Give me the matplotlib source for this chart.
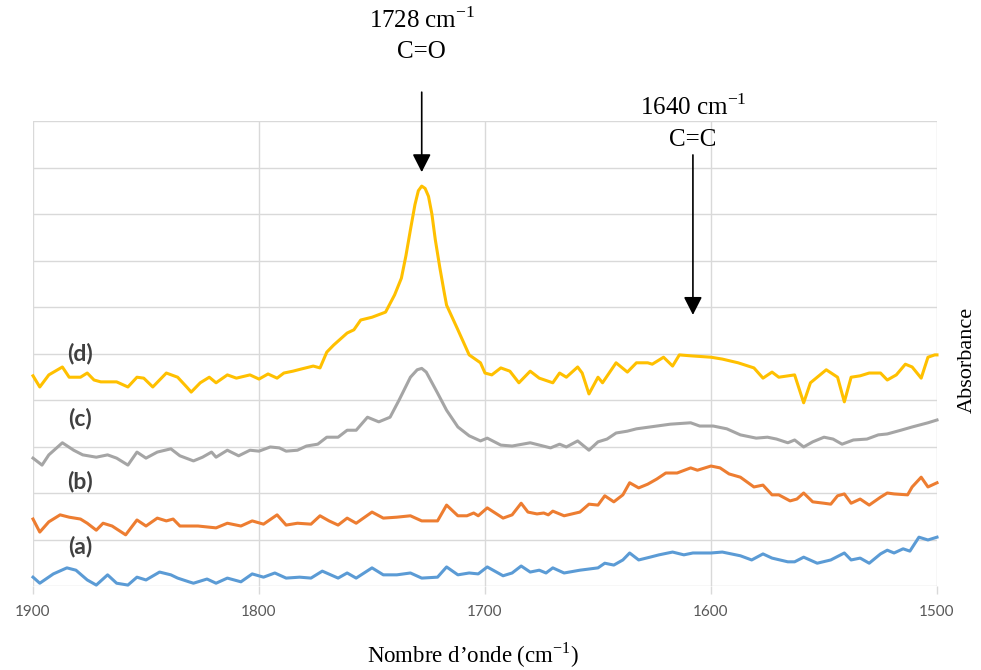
import matplotlib
matplotlib.use("Agg")
import matplotlib.pyplot as plt

plt.rcParams['mathtext.fontset'] = 'custom'
plt.rcParams['mathtext.rm'] = 'Liberation Serif'

# spectra, absorbance in arbitrary (offset) units, x in cm-1
wn_a = [1900, 1897, 1891, 1885, 1881, 1876, 1872, 1867, 1863, 1858, 1854, 1850, 1844, 1839, 1836,
        1831, 1829, 1823, 1819, 1814, 1808, 1803, 1798, 1793, 1788, 1782, 1777, 1772, 1765, 1761,
        1757, 1750, 1745, 1739, 1733, 1728, 1721, 1717, 1712, 1707, 1703, 1699, 1692, 1688, 1684,
        1680, 1676, 1673, 1670, 1665, 1658, 1650, 1647, 1643, 1639, 1636, 1632, 1627, 1623, 1617,
        1612, 1608, 1600, 1595, 1587, 1582, 1577, 1573, 1566, 1563, 1559, 1553, 1547, 1541, 1538,
        1534, 1530, 1525, 1522, 1519, 1515, 1512, 1508, 1504, 1500]
abs_a = [0.19, 0.06, 0.26, 0.39, 0.34, 0.13, 0.02, 0.24, 0.06, 0.02, 0.19, 0.13, 0.30, 0.24, 0.17,
         0.09, 0.06, 0.15, 0.06, 0.17, 0.09, 0.26, 0.19, 0.28, 0.17, 0.19, 0.17, 0.32, 0.17, 0.28,
         0.17, 0.39, 0.24, 0.24, 0.28, 0.17, 0.19, 0.41, 0.24, 0.28, 0.26, 0.41, 0.22, 0.28, 0.43,
         0.30, 0.34, 0.28, 0.39, 0.28, 0.34, 0.39, 0.49, 0.45, 0.56, 0.71, 0.56, 0.62, 0.67, 0.73,
         0.67, 0.71, 0.71, 0.73, 0.65, 0.56, 0.69, 0.60, 0.52, 0.52, 0.62, 0.49, 0.56, 0.71, 0.56,
         0.60, 0.49, 0.69, 0.77, 0.71, 0.80, 0.75, 1.05, 0.99, 1.05]

wn_b = [1900, 1897, 1893, 1888, 1884, 1879, 1876, 1872, 1869, 1865, 1859, 1854, 1850, 1845, 1841,
        1838, 1835, 1827, 1823, 1819, 1814, 1808, 1803, 1798, 1792, 1788, 1783, 1777, 1773, 1769,
        1765, 1761, 1757, 1750, 1745, 1739, 1733, 1728, 1721, 1717, 1712, 1708, 1705, 1703, 1699,
        1692, 1688, 1684, 1681, 1677, 1674, 1672, 1670, 1665, 1658, 1654, 1650, 1647, 1643, 1639,
        1636, 1632, 1628, 1624, 1620, 1615, 1609, 1606, 1600, 1596, 1592, 1587, 1581, 1577, 1573,
        1570, 1565, 1562, 1559, 1555, 1550, 1547, 1544, 1541, 1538, 1534, 1530, 1525, 1522, 1519,
        1513, 1511, 1507, 1504, 1500]
abs_b = [1.44, 1.16, 1.38, 1.53, 1.48, 1.44, 1.35, 1.20, 1.35, 1.29, 1.10, 1.42, 1.29, 1.46, 1.40,
         1.44, 1.29, 1.29, 1.27, 1.25, 1.35, 1.29, 1.40, 1.33, 1.53, 1.31, 1.35, 1.33, 1.51, 1.40,
         1.31, 1.46, 1.35, 1.59, 1.46, 1.48, 1.51, 1.40, 1.40, 1.74, 1.51, 1.51, 1.57, 1.51, 1.68,
         1.46, 1.53, 1.78, 1.59, 1.55, 1.57, 1.53, 1.61, 1.51, 1.59, 1.76, 1.74, 1.94, 1.81, 1.96,
         2.22, 2.11, 2.19, 2.30, 2.43, 2.43, 2.54, 2.49, 2.58, 2.54, 2.41, 2.34, 2.13, 2.17, 1.96,
         1.96, 1.83, 1.87, 2.00, 1.81, 1.78, 1.76, 1.94, 1.98, 1.78, 1.87, 1.74, 1.91, 2.00, 1.98,
         1.96, 2.13, 2.34, 2.13, 2.22]

wn_c = [1900, 1896, 1893, 1887, 1882, 1878, 1872, 1867, 1863, 1858, 1854, 1850, 1845, 1839, 1835,
        1829, 1825, 1821, 1819, 1814, 1809, 1804, 1800, 1795, 1791, 1788, 1783, 1779, 1774, 1770,
        1765, 1761, 1757, 1752, 1747, 1742, 1738, 1733, 1730, 1728, 1726, 1721, 1717, 1712, 1707,
        1702, 1699, 1693, 1688, 1680, 1671, 1667, 1664, 1659, 1654, 1650, 1646, 1642, 1637, 1633,
        1627, 1618, 1609, 1605, 1599, 1593, 1587, 1580, 1575, 1571, 1566, 1563, 1559, 1555, 1550,
        1546, 1542, 1537, 1531, 1526, 1522, 1516, 1511, 1504, 1500]
abs_c = [2.75, 2.60, 2.82, 3.08, 2.92, 2.82, 2.77, 2.82, 2.75, 2.60, 2.88, 2.75, 2.88, 2.95, 2.80,
         2.69, 2.77, 2.88, 2.77, 2.92, 2.80, 2.92, 2.90, 2.99, 2.97, 2.90, 2.92, 3.01, 3.05, 3.20,
         3.20, 3.35, 3.35, 3.63, 3.53, 3.63, 4.00, 4.49, 4.65, 4.68, 4.60, 4.15, 3.78, 3.42, 3.23,
         3.12, 3.18, 3.03, 3.01, 3.08, 2.97, 3.05, 2.99, 3.12, 2.92, 3.10, 3.16, 3.29, 3.33, 3.38,
         3.42, 3.48, 3.51, 3.44, 3.44, 3.38, 3.25, 3.18, 3.20, 3.16, 3.08, 3.14, 2.99, 3.10, 3.20,
         3.16, 3.05, 3.14, 3.16, 3.25, 3.27, 3.35, 3.42, 3.51, 3.57]

wn_d = [1900, 1897, 1893, 1887, 1884, 1879, 1876, 1873, 1870, 1866, 1863, 1858, 1854, 1851, 1847,
        1841, 1836, 1832, 1830, 1826, 1822, 1819, 1814, 1810, 1804, 1800, 1796, 1792, 1789, 1785,
        1781, 1776, 1773, 1770, 1767, 1761, 1758, 1755, 1750, 1744, 1740, 1737, 1735, 1733, 1731,
        1729.5, 1728, 1726.5, 1725, 1723.5, 1722, 1720, 1718, 1717, 1712, 1707, 1702, 1700, 1697,
        1693, 1689, 1685, 1680, 1676, 1670, 1667, 1664, 1659, 1657, 1654, 1650, 1648, 1642, 1637,
        1633, 1628, 1626, 1621, 1617, 1614, 1609, 1600, 1595, 1588, 1581, 1577, 1573, 1570, 1563,
        1559, 1556, 1549, 1544, 1541, 1538, 1534, 1530, 1525, 1522, 1518, 1514, 1511, 1507, 1504,
        1501, 1500]
abs_d = [4.52, 4.28, 4.54, 4.71, 4.49, 4.49, 4.58, 4.43, 4.39, 4.39, 4.39, 4.28, 4.49, 4.47, 4.28,
         4.58, 4.49, 4.28, 4.17, 4.37, 4.49, 4.37, 4.54, 4.47, 4.54, 4.45, 4.56, 4.47, 4.58, 4.62,
         4.67, 4.73, 4.69, 5.03, 5.18, 5.44, 5.51, 5.72, 5.78, 5.89, 6.26, 6.62, 7.10, 7.66, 8.20,
         8.50, 8.60, 8.55, 8.38, 8.00, 7.45, 6.85, 6.30, 6.04, 5.51, 4.97, 4.80, 4.58, 4.54,
         4.69, 4.62, 4.37, 4.62, 4.47, 4.37, 4.58, 4.49, 4.71, 4.58, 4.13, 4.49, 4.37, 4.80, 4.60,
         4.80, 4.80, 4.77, 4.92, 4.73, 4.97, 4.95, 4.92, 4.88, 4.80, 4.69, 4.47, 4.60, 4.49, 4.54,
         3.94, 4.37, 4.65, 4.49, 3.96, 4.49, 4.52, 4.58, 4.58, 4.43, 4.54, 4.77, 4.71, 4.47, 4.92,
         4.97, 4.97]

series = [
    ('(a)', wn_a, abs_a, '#5B9BD5', 0.86),
    ('(b)', wn_b, abs_b, '#ED7D31', 2.24),
    ('(c)', wn_c, abs_c, '#A5A5A5', 3.61),
    ('(d)', wn_d, abs_d, '#FFC000', 5.01),
]

peaks = [('1728', 'C=O', 1728, 8.9, 10.62, 12.17, 11.48),
         ('1640', 'C=C', 1608, 5.83, 9.27, 10.30, 9.59)]

W, H = 981, 670
fig = plt.figure(figsize=(W / 100, H / 100), dpi=100)
ax = fig.add_axes([33 / W, 1 - 586 / H, (937 - 33) / W, (586 - 121) / H])

for lab, x, y, col, ylab in series:
    ax.plot(x, y, color=col, lw=2.2, solid_joinstyle='round', clip_on=False, zorder=3)
    ax.text(1879, ylab, lab, ha='center', va='center', fontsize=16.5, fontweight='bold',
            color='#404040', family='Lato')

for num, bond, xp, ytip, ytail, ynum, ybond in peaks:
    ax.annotate('', xy=(xp, ytip), xytext=(xp, ytail),
                arrowprops=dict(arrowstyle='-|>,head_length=0.55,head_width=0.28',
                                color='black', lw=1.2, mutation_scale=20,
                                shrinkA=0, shrinkB=0),
                annotation_clip=False)
    ax.text(xp, ynum, num + r' cm$^{-1}$', ha='center', va='center', fontsize=18,
            family='Liberation Serif', clip_on=False)
    ax.text(xp, ybond, bond, ha='center', va='center', fontsize=18,
            family='Liberation Serif', clip_on=False)

ax.set_xlim(1900, 1500)
ax.set_ylim(0, 10)
ax.set_xticks([1900, 1800, 1700, 1600, 1500])
ax.set_yticks(range(0, 11))
ax.grid(True, color='#D9D9D9', lw=1.0, zorder=0)
ax.set_axisbelow(True)
for s in ax.spines.values():
    s.set_visible(False)
ax.tick_params(axis='x', length=6, width=1, color='#D9D9D9', labelsize=11,
               labelcolor='#595959', pad=8)
ax.tick_params(axis='y', length=0, labelleft=False)
for t in ax.get_xticklabels():
    t.set_family('Lato')

fig.text(0.482, 1 - 655 / H, r'Nombre d’onde (cm$^{-1}$)', ha='center', va='center',
         fontsize=16.5, family='Liberation Serif')
fig.text(0.986, 1 - 360 / H, 'Absorbance', rotation=90, ha='center', va='center',
         fontsize=16, family='Liberation Serif')

fig.savefig('out.png', dpi=100)
